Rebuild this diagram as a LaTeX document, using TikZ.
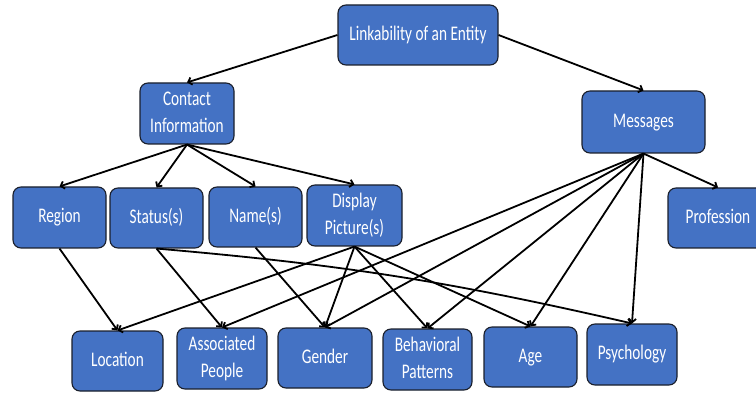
\documentclass[tikz,border=0pt]{standalone}
\usepackage{graphicx}
\usepackage{fontspec}
\setmainfont{Carlito}
\usetikzlibrary{arrows.meta}

\definecolor{boxblue}{HTML}{4472C4}
\definecolor{boxedge}{HTML}{1A1F2B}

% box text: white, slightly tall letters, centred lines
\newcommand{\boxtext}[1]{\raisebox{-2pt}{\scalebox{1}[1.36]{\begin{tabular}{@{}c@{}}#1\end{tabular}}}}

\begin{document}
\begin{tikzpicture}[x=1pt,y=-1pt,
  entity/.style={draw=boxedge, line width=1.1pt, fill=boxblue, rounded corners=8pt,
    text=white, inner sep=0pt, font=\fontsize{15.3}{19.5}\selectfont},
  link/.style={line width=1.8pt, -{Straight Barb[length=3.5pt,width=7.5pt]}}]
\useasboundingbox (0,0) rectangle (756,393);

% top levels
\node[entity, minimum width=160pt, minimum height=60pt] (entity) at (418,35) {\boxtext{Linkability of an Entity}};
\node[entity, minimum width=94pt, minimum height=61pt] (contact) at (187,113.5) {\boxtext{Contact\\Information}};
\node[entity, minimum width=123pt, minimum height=62pt] (msg) at (643.5,122) {\boxtext{Messages}};

% middle row
\node[entity, minimum width=93pt, minimum height=61pt] (region) at (59.5,217.5) {\boxtext{Region}};
\node[entity, minimum width=93pt, minimum height=60pt] (status) at (156.5,218) {\boxtext{Status(s)}};
\node[entity, minimum width=93pt, minimum height=60pt] (name) at (255.5,217) {\boxtext{Name(s)}};
\node[entity, minimum width=95pt, minimum height=61pt] (display) at (354.5,215.5) {\boxtext{Display\\Picture(s)}};
\node[entity, minimum width=100pt, minimum height=60pt] (prof) at (718,218) {\boxtext{Profession}};

% bottom row
\node[entity, minimum width=91pt, minimum height=60pt] (loc) at (117.5,361) {\boxtext{Location}};
\node[entity, minimum width=90pt, minimum height=61pt] (assoc) at (222,358.5) {\boxtext{Associated\\People}};
\node[entity, minimum width=94pt, minimum height=60pt] (gender) at (325,358) {\boxtext{Gender}};
\node[entity, minimum width=89pt, minimum height=61pt] (behav) at (427.5,359.5) {\boxtext{Behavioral\\Patterns}};
\node[entity, minimum width=93pt, minimum height=60pt] (age) at (530.5,357) {\boxtext{Age}};
\node[entity, minimum width=90pt, minimum height=61pt] (psych) at (632,354.5) {\boxtext{Psychology}};

% connectors
\draw[link] (entity.west) -- (contact.north);
\draw[link] (entity.east) -- (msg.north);

\foreach \t in {region,status,name,display}
  \draw[link] (contact.south) -- (\t.north);

\foreach \t in {prof,assoc,gender,behav,age,psych}
  \draw[link] (msg.south) -- (\t.north);

\draw[link] (region.south) -- (loc.north);
\draw[link] (status.south) -- (assoc.north);
\draw[link] (status.south) to[bend left=4] (psych.north);
\draw[link] (name.south) -- (gender.north);

\foreach \t in {loc,gender,behav,age}
  \draw[link] (display.south) -- (\t.north);
\end{tikzpicture}
\end{document}
